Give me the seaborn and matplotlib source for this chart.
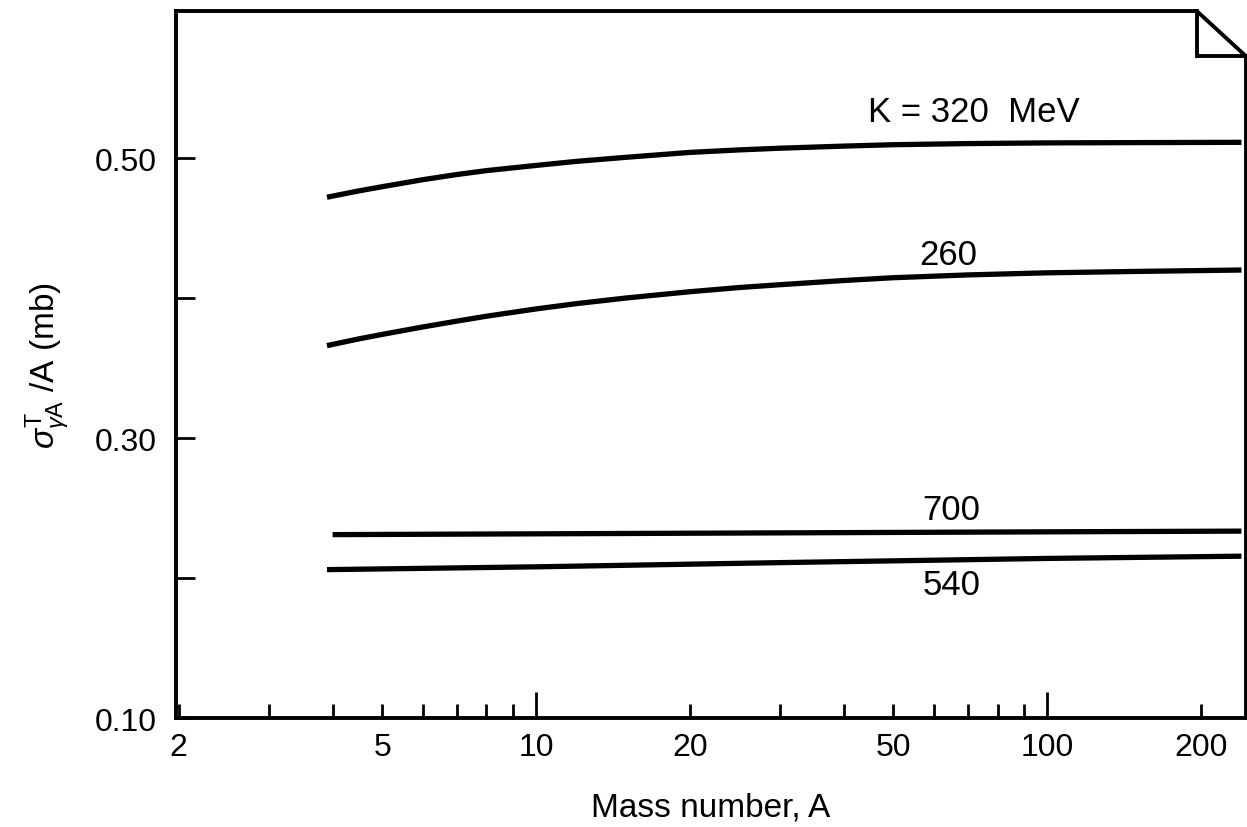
import numpy as np
import pandas as pd
import matplotlib
matplotlib.use("Agg")
import matplotlib.pyplot as plt
import seaborn as sns

# Total photoabsorption cross section per nucleon vs mass number
a_320 = [3.9, 4.5, 5, 6, 7, 8, 10, 12, 15, 20, 25, 30, 40, 50, 70, 100, 150, 240]
s_320 = [0.472, 0.4765, 0.4795, 0.4845, 0.4882, 0.491, 0.4947, 0.4976, 0.5005,
         0.504, 0.5058, 0.507, 0.5085, 0.5095, 0.5103, 0.5108, 0.511, 0.5112]

a_260 = [3.9, 4.5, 5, 6, 7, 8, 10, 12, 15, 20, 25, 30, 40, 50, 70, 100, 150, 240]
s_260 = [0.366, 0.3708, 0.374, 0.3793, 0.3835, 0.387, 0.3922, 0.396, 0.400,
         0.4045, 0.4075, 0.4095, 0.4125, 0.4145, 0.4165, 0.418, 0.419, 0.420]

a_700 = [4.0, 20, 100, 240]
s_700 = [0.231, 0.232, 0.233, 0.2335]

a_540 = [3.9, 10, 30, 100, 240]
s_540 = [0.206, 0.208, 0.211, 0.214, 0.2156]

energies = ["320", "260", "700", "540"]
curve_labels = ["K = 320  MeV", "260", "700", "540"]
label_x = [72, 64, 65, 65]
label_y = [0.533, 0.431, 0.249, 0.1956]

x_ticks = [2, 5, 10, 20, 50, 100, 200]
x_minor = [3, 4, 6, 7, 8, 9, 30, 40, 60, 70, 80, 90]
y_ticks = [0.10, 0.20, 0.30, 0.40, 0.50]
y_ticklabels = ["0.10", "", "0.30", "", "0.50"]

frames = []
for k, a, s in zip(energies, [a_320, a_260, a_700, a_540], [s_320, s_260, s_700, s_540]):
    frames.append(pd.DataFrame({"A": a, "sigma": s, "K": k}))
df = pd.concat(frames, ignore_index=True)

sns.set_theme(style="white")
plt.rcParams["font.family"] = ["Liberation Sans", "DejaVu Sans"]
plt.rcParams["mathtext.fontset"] = "custom"
plt.rcParams["mathtext.rm"] = "Liberation Sans"
plt.rcParams["mathtext.it"] = "Liberation Sans:italic"
for key in ("text.color", "axes.labelcolor", "xtick.color", "ytick.color"):
    plt.rcParams[key] = "black"

fig = plt.figure(figsize=(12.47, 8.28), dpi=100)
ax = fig.add_axes([0.1411, 0.1316, 0.8581, 0.8539])

sns.lineplot(data=df, x="A", y="sigma", hue="K", units="K", estimator=None,
             palette=["black"] * 4, linewidth=3.8, legend=False, ax=ax, sort=True)
for line in ax.lines:
    line.set_solid_capstyle("butt")
    line.set_solid_joinstyle("round")

ax.set_xscale("log")
ax.set_xlim(1.975, 245)
ax.set_ylim(0.10, 0.605)

ax.set_xticks(x_ticks)
ax.set_xticklabels([str(t) for t in x_ticks])
ax.set_xticks(x_minor, minor=True)
ax.set_yticks(y_ticks)
ax.set_yticklabels(y_ticklabels)

ax.tick_params(axis="x", which="both", direction="in", length=10, width=2,
               labelsize=23, pad=10, bottom=True, top=False)
ax.tick_params(axis="y", which="major", direction="in", length=14, width=2,
               labelsize=23, pad=14, left=True, right=False)
# longer ticks at the decades
for t in ax.xaxis.get_major_ticks():
    if t.get_loc() in (10, 100):
        t.tick1line.set_markersize(19)

for side in ("left", "bottom"):
    ax.spines[side].set_linewidth(2.8)
    ax.spines[side].set_color("black")
ax.spines["top"].set_visible(False)
ax.spines["right"].set_visible(False)

# frame with a folded top-right corner
fx, fy = 0.954, 0.936
kw = dict(transform=ax.transAxes, color="black", lw=2.8, clip_on=False,
          solid_capstyle="projecting", solid_joinstyle="miter")
ax.plot([0, fx, 1, 1], [1, 1, fy, 0], **kw)
ax.plot([fx, fx, 1], [1, fy, fy], **kw)

for txt, xx, yy in zip(curve_labels, label_x, label_y):
    ax.text(xx, yy, txt, fontsize=25, ha="center", va="center")

ax.set_xlabel("Mass number, A", fontsize=24, labelpad=21)
ax.set_ylabel(r"$\sigma^{\mathrm{T}}_{\gamma\mathrm{A}}$ /A (mb)", fontsize=24,
              labelpad=16)

fig.savefig("out.png", dpi=100, facecolor="white")
